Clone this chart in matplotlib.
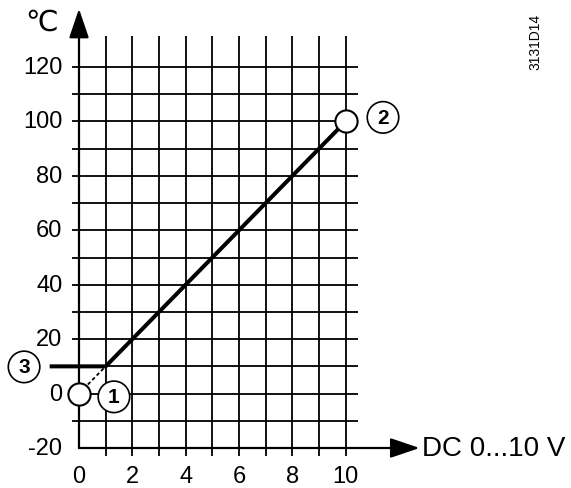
import matplotlib
matplotlib.use("Agg")
import matplotlib.pyplot as plt

plt.rcParams['font.family'] = ['Liberation Sans', 'DejaVu Sans']

# characteristic: DC 0...10 V -> temperature
line_v = [-1.1, 1.0, 10.0]
line_t = [10, 10, 100]
dotted_v = [0, 1]
dotted_t = [0, 10]
point_v = [0, 10]
point_t = [0, 100]

x_ticks = [0, 2, 4, 6, 8, 10]
y_ticks = [-20, 0, 20, 40, 60, 80, 100, 120]
grid_x = list(range(1, 11))
grid_y = list(range(-10, 121, 10))

# circled callouts
callout_text = ['1', '2', '3']
callout_v = [1.31, 11.4, -2.06]
callout_t = [-1.2, 101.5, 9.8]

fig = plt.figure(figsize=(5.71, 4.89), dpi=100)
ax = fig.add_axes([0, 0, 1, 1])
ax.set_xlim(-2.962, 18.45)
ax.set_ylim(-34.7, 145.0)
ax.axis('off')

# grid
ax.vlines(grid_x, -23, 131.5, color='black', lw=1.3)
ax.hlines(grid_y, -0.26, 10.45, color='black', lw=1.3)

# axes with arrows
arrow = dict(arrowstyle='-|>,head_length=1.0,head_width=0.34',
             mutation_scale=18, lw=1.6, color='black', shrinkA=0, shrinkB=0)
ax.annotate('', xy=(0, 141.4), xytext=(0, -20), arrowprops=arrow)
ax.annotate('', xy=(12.77, -20), xytext=(0, -20), arrowprops=arrow)

# tick labels
for t in y_ticks:
    ax.annotate(str(t), xy=(0, t), xytext=(-12, 0), textcoords='offset points',
                ha='right', va='center', fontsize=17)
for v in x_ticks:
    ax.annotate(str(v), xy=(v, -20), xytext=(0, -27.8), textcoords='offset points',
                ha='center', va='bottom', fontsize=17)

ax.annotate('\u2103', xy=(0, 141.4), xytext=(-27, -9), textcoords='offset points',
            ha='center', va='center', fontsize=21)
ax.annotate('DC 0...10 V', xy=(12.77, -20), xytext=(2, 0), textcoords='offset points',
            ha='left', va='center', fontsize=20)

# data
ax.plot(line_v, line_t, color='black', lw=2.9, solid_capstyle='butt', zorder=3)
ax.plot(dotted_v, dotted_t, color='black', lw=1.3, ls=(0, (2, 1.5)), zorder=3)
ax.plot(point_v, point_t, 'o', ms=16, mfc='white', mec='black', mew=1.5, zorder=4)

for s, v, t in zip(callout_text, callout_v, callout_t):
    ax.text(v, t, s, ha='center', va='center', fontsize=15, fontweight='bold',
            bbox=dict(boxstyle='circle,pad=0.3', fc='white', ec='black', lw=1.2),
            zorder=5)

fig.text(535 / 571, 1 - 42 / 489, '3131D14', rotation=90, ha='center', va='center',
         fontsize=10)

fig.savefig('out.png', dpi=100)
